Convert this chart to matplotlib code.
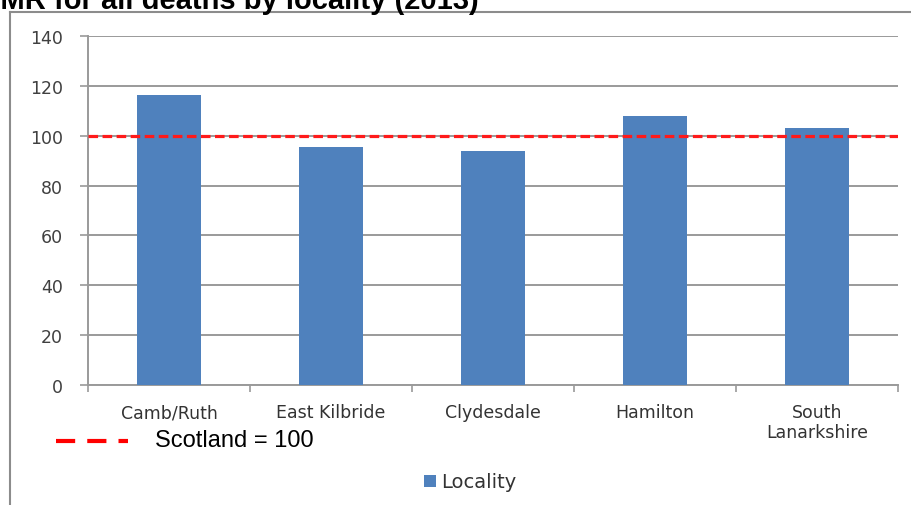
import matplotlib
matplotlib.use("Agg")
import matplotlib.pyplot as plt
from matplotlib.lines import Line2D
from matplotlib.patches import Rectangle

# Standardised mortality ratios by locality
localities = ["Camb/Ruth", "East Kilbride", "Clydesdale", "Hamilton", "South\nLanarkshire"]
smr = [116.5, 95.5, 94, 108, 103]
scotland = 100
yticks = [0, 20, 40, 60, 80, 100, 120, 140]

W, H = 912, 506
fig = plt.figure(figsize=(W / 100, H / 100), dpi=100)
fig.patch.set_facecolor("white")

def fx(px):
    return px / W

def fy(py):
    return 1 - py / H

# Outer chart frame (top and left edges)
fig.add_artist(Line2D([fx(10), 1.0], [fy(13), fy(13)], color="#8c8c8c", lw=1.5))
fig.add_artist(Line2D([fx(10), fx(10)], [fy(13), 0.0], color="#8c8c8c", lw=1.5))

# Title, sitting above the frame and running off the top of the canvas
fig.text(fx(-19), fy(9), "SMR for all deaths by locality (2013)", fontsize=21,
         fontweight="bold", family="Liberation Sans", ha="left", va="baseline",
         color="black")

ax = fig.add_axes([fx(88), fy(386), fx(898) - fx(88), fy(37) - fy(386)])
x = list(range(len(localities)))
ax.bar(x, smr, width=0.4, color="#4f81bd", zorder=3, label="Locality")
ax.axhline(scotland, color="#ff1a1a", lw=2.3, ls=(0, (3.0, 1.4)), zorder=4)

ax.set_xlim(-0.5, len(localities) - 0.5)
ax.set_ylim(0, 140)
ax.set_yticks(yticks)
ax.set_yticklabels([str(v) for v in yticks])
ax.yaxis.grid(True, color="#9a9a9a", lw=1.4, zorder=0)
ax.set_axisbelow(True)

for s in ("top", "right"):
    ax.spines[s].set_visible(False)
for s in ("left", "bottom"):
    ax.spines[s].set_color("#9a9a9a")
    ax.spines[s].set_linewidth(1.4)

ax.tick_params(axis="y", length=6, width=1.2, color="#9a9a9a", pad=12,
               labelsize=12.5, labelcolor="#404040")
ax.set_xticks(x)
ax.set_xticklabels(localities, linespacing=1.15)
ax.set_xticks([i - 0.5 for i in range(len(localities) + 1)], minor=True)
ax.tick_params(axis="x", which="major", length=0, pad=13, labelsize=12.5,
               labelcolor="#333333")
ax.tick_params(axis="x", which="minor", length=5, width=1.2, color="#9a9a9a")

# Reference line key
fig.add_artist(Line2D([fx(56), fx(128)], [fy(442), fy(442)], color="#ff0000",
                      lw=3.0, ls=(0, (4.6, 2.9)), solid_capstyle="butt",
                      dash_capstyle="butt"))
fig.text(fx(155), fy(441), "Scotland = " + str(scotland), fontsize=17,
         family="Liberation Sans", va="center", ha="left", color="black")

# Series key
fig.add_artist(Rectangle((fx(424), fy(488)), fx(12), fy(476) - fy(488),
                         facecolor="#4f81bd", edgecolor="none"))
fig.text(fx(441), fy(482), "Locality", fontsize=14, va="center", ha="left",
         color="#333333")

fig.savefig("out.png", dpi=100, facecolor="white")
